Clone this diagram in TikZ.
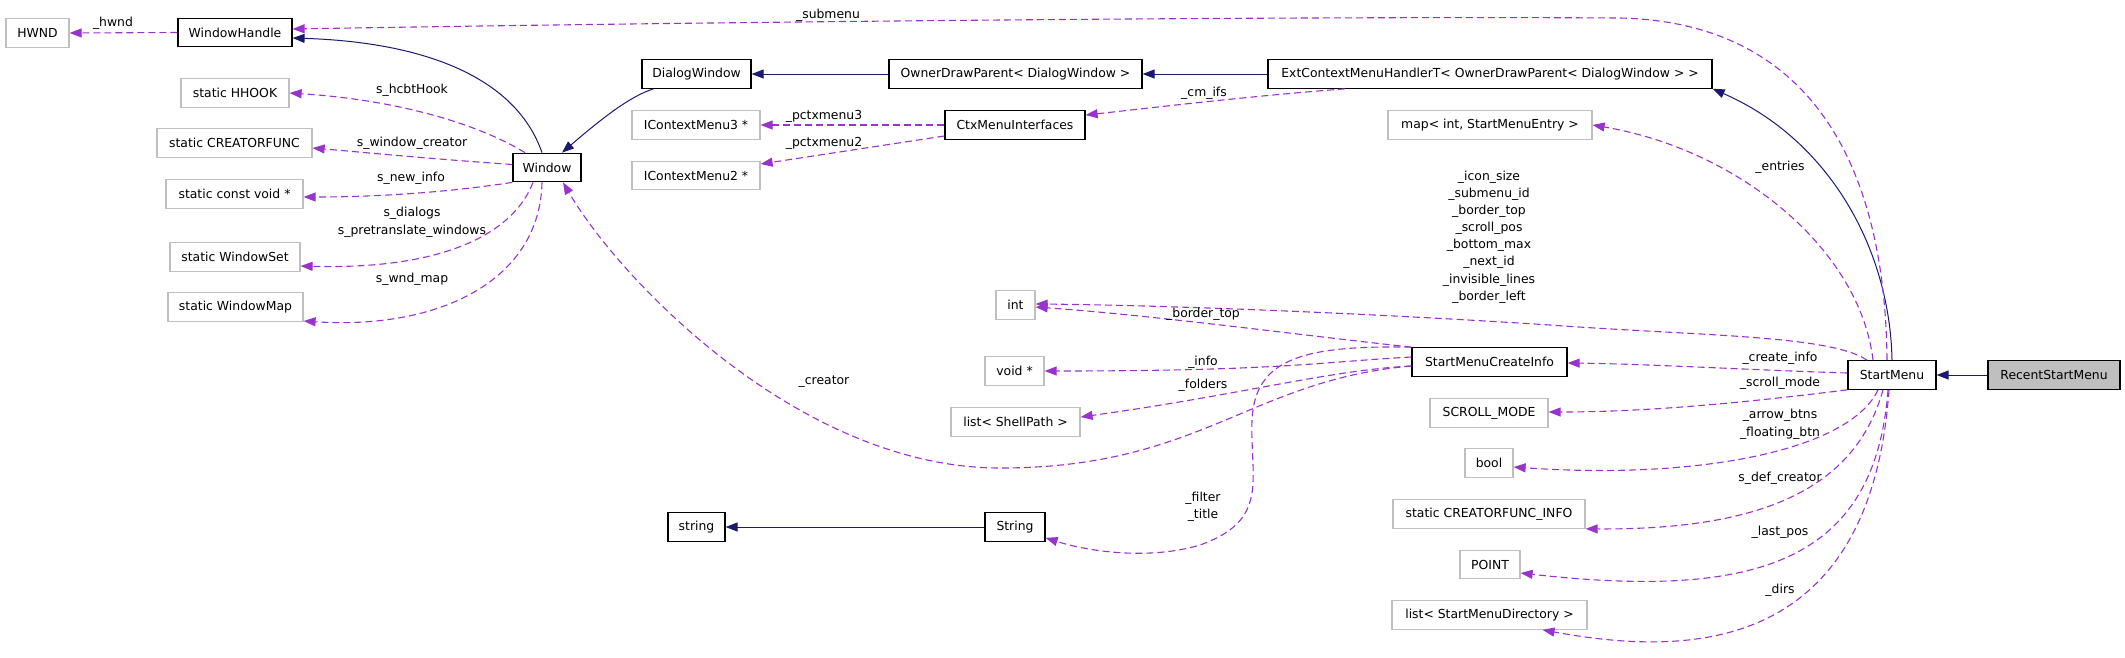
\documentclass[tikz,border=0pt]{standalone}
\usepackage{fontspec}
\setmainfont{DejaVu Sans}
\usetikzlibrary{arrows.meta}
\definecolor{depc}{HTML}{9A32CD}
\definecolor{inhc}{HTML}{191970}
\definecolor{gbord}{HTML}{BFBFBF}
\begin{document}
\begin{tikzpicture}[x=1pt,y=-1pt,
  every node/.style={font=\fontsize{12.4}{15}\selectfont, inner sep=0pt},
  cls/.style={draw=black, line width=1.2pt, minimum height=28.5pt, anchor=center},
  extc/.style={draw=gbord, line width=1.2pt, minimum height=28.5pt, anchor=center},
  lbl/.style={align=center, font=\fontsize{12.4}{17.5}\selectfont},
  inhe/.style={draw=inhc, line width=1pt, -{Triangle[length=12pt,width=9pt]}},
  depe/.style={draw=depc, line width=1.1pt, dash pattern=on 7pt off 4pt, -{Triangle[length=12pt,width=9pt]}}
]
\useasboundingbox (0,0) rectangle (2125,657);

% nodes
\node[extc, minimum width=63] (hwnd) at (37.5,33) {HWND};
\node[cls, minimum width=114] (wh) at (235,32.5) {WindowHandle};
\node[extc, minimum width=108] (hhook) at (235,93) {static HHOOK};
\node[extc, minimum width=155] (cfunc) at (234.5,143) {static CREATORFUNC};
\node[extc, minimum width=137] (cvoid) at (234.5,194) {static const void *};
\node[extc, minimum width=130] (wset) at (235,257) {static WindowSet};
\node[extc, minimum width=135] (wmap) at (235.5,307) {static WindowMap};
\node[cls, minimum width=68] (win) at (547,167.5) {Window};
\node[cls, minimum width=109] (dlg) at (696.5,74) {DialogWindow};
\node[extc, minimum width=128] (icm3) at (696,125) {IContextMenu3 *};
\node[extc, minimum width=128] (icm2) at (696,175.5) {IContextMenu2 *};
\node[cls, minimum width=57] (stdstr) at (696.5,527) {string};
\node[cls, minimum width=253] (odp) at (1015.5,74) {OwnerDrawParent< DialogWindow >};
\node[cls, minimum width=140] (ctx) at (1015,125) {CtxMenuInterfaces};
\node[extc, minimum width=39] (int) at (1015.5,305) {int};
\node[extc, minimum width=59] (voidp) at (1014.5,371) {void *};
\node[extc, minimum width=129] (lsp) at (1015.5,422) {list< ShellPath >};
\node[cls, minimum width=60] (Str) at (1015,527) {String};
\node[cls, minimum width=444] (ecm) at (1490,74) {ExtContextMenuHandlerT< OwnerDrawParent< DialogWindow > >};
\node[extc, minimum width=204] (map) at (1490,125) {map< int, StartMenuEntry >};
\node[cls, minimum width=155] (smci) at (1489.5,362) {StartMenuCreateInfo};
\node[extc, minimum width=118] (scroll) at (1489,413) {SCROLL\_MODE};
\node[extc, minimum width=48] (bool) at (1489,463) {bool};
\node[extc, minimum width=192] (cfinfo) at (1489,514) {static CREATORFUNC\_INFO};
\node[extc, minimum width=60] (point) at (1490,564.5) {POINT};
\node[extc, minimum width=195] (lsmd) at (1489.5,615) {list< StartMenuDirectory >};
\node[cls, minimum width=88] (sm) at (1892,375) {StartMenu};
\node[cls, minimum width=132, fill=gbord] (rsm) at (2054,375) {RecentStartMenu};

% inheritance
\draw[inhe] (rsm.west) -- (sm.east);
\draw[inhe] (sm.north) .. controls (1890,250) and (1830,140) .. (ecm.south east);
\draw[inhe] (ecm.west) -- (odp.east);
\draw[inhe] (odp.west) -- (dlg.east);
\draw[inhe] ([xshift=-43]dlg.south) .. controls (630,96) and (600,120) .. ([xshift=15]win.north);
\draw[inhe] ([xshift=-5]win.north) .. controls (515,75) and (420,42) .. ([yshift=-5.5]wh.east);
\draw[inhe] (Str.west) -- (stdstr.east);

% dependencies
\draw[depe] (wh.west) -- (hwnd.east);
\draw[depe] ([xshift=-5]sm.north) .. controls (1885,150) and (1800,22) .. (1620,18) .. controls (1300,16) and (700,22) .. ([yshift=3.5]wh.east);
\draw[depe] ([xshift=-19]sm.north) .. controls (1860,250) and (1740,150) .. (map.east);
\draw[depe] ([xshift=-25]sm.north) .. controls (1830,335) and (1700,336) .. (1550,325) .. controls (1350,312) and (1150,305) .. ([yshift=1]int.east);
\draw[depe] (smci.north west) .. controls (1300,335) and (1150,315) .. ([yshift=-2]int.east);
\draw[depe] ([yshift=5]smci.west) .. controls (1320,362) and (1280,371) .. (voidp.east);
\draw[depe] ([yshift=-4]smci.west) .. controls (1330,370) and (1240,395) .. ([yshift=5]lsp.east);
\draw[depe] ([yshift=-4]smci.west) .. controls (1250,380) and (1200,468) .. (1000,468) .. controls (800,468) and (620,280) .. ([xshift=16]win.south);
\draw[depe] (smci.north west) .. controls (1300,345) and (1255,360) .. (1252,420) .. controls (1250,480) and (1270,520) .. (1200,545) .. controls (1150,560) and (1090,552) .. ([yshift=4]Str.south east);
\draw[depe] ([yshift=2]sm.west) .. controls (1750,370) and (1650,364) .. ([yshift=-1]smci.east);
\draw[depe] (sm.south west) .. controls (1750,402) and (1650,412) .. ([yshift=1]scroll.east);
\draw[depe] ([xshift=-14]sm.south) .. controls (1850,450) and (1700,480) .. ([yshift=-4]bool.east);
\draw[depe] ([xshift=-9]sm.south) .. controls (1855,490) and (1760,530) .. (cfinfo.south east);
\draw[depe] ([xshift=-4]sm.south) .. controls (1875,560) and (1760,600) .. ([yshift=-8.5]point.east);
\draw[depe] ([xshift=-3]sm.south) .. controls (1870,660) and (1680,655) .. ([xshift=53]lsmd.south);
\draw[depe] ([xshift=-145]ecm.south) .. controls (1250,96) and (1150,108) .. ([yshift=10]ctx.east);
\draw[depe] (ctx.west) -- (icm3.east);
\draw[depe] ([yshift=-11]ctx.west) -- ([yshift=11.5]icm2.east);
\draw[depe] ([xshift=-22]win.north) .. controls (480,125) and (400,100) .. (hhook.east);
\draw[depe] ([yshift=3]win.west) .. controls (420,158) and (360,152) .. ([yshift=-5]cfunc.east);
\draw[depe] (win.south west) .. controls (450,192) and (380,197) .. ([yshift=-3]cvoid.east);
\draw[depe] ([xshift=-14]win.south) .. controls (515,230) and (450,270) .. ([yshift=-9]wset.east);
\draw[depe] ([xshift=-5]win.south) .. controls (540,280) and (440,330) .. ([yshift=-14]wmap.east);

% labels
\node[lbl] (lhwnd) at (113,23) {\_hwnd};
\node[lbl] (lsubmenu) at (828,15) {\_submenu};
\node[lbl] (lhcbt) at (412,90) {s\_hcbtHook};
\node[lbl] (lwcr) at (412,143) {s\_window\_creator};
\node[lbl] (lnewinfo) at (411,178) {s\_new\_info};
\node[lbl, font=\fontsize{12.4}{18}\selectfont] (ldlg) at (412,222) {s\_dialogs\\s\_pretranslate\_windows};
\node[lbl] (lwnd) at (412,279) {s\_wnd\_map};
\node[lbl] (lp3) at (824,116) {\_pctxmenu3};
\node[lbl] (lp2) at (824,143) {\_pctxmenu2};
\node[lbl] (lcm) at (1204,93) {\_cm\_ifs};
\node[lbl] (lcreator) at (824,382) {\_creator};
\node[lbl] (lbt) at (1203,314) {\_border\_top};
\node[lbl] (linfo) at (1203,362) {\_info};
\node[lbl] (lfolders) at (1203,385) {\_folders};
\node[lbl, font=\fontsize{12.4}{17}\selectfont] (lft) at (1203,507) {\_filter\\\_title};
\node[lbl] (lentries) at (1780,167) {\_entries};
\node[lbl, font=\fontsize{12.4}{17.14}\selectfont] (lmany) at (1489,237) {\_icon\_size\\\_submenu\_id\\\_border\_top\\\_scroll\_pos\\\_bottom\_max\\\_next\_id\\\_invisible\_lines\\\_border\_left};
\node[lbl] (lci) at (1780,358) {\_create\_info};
\node[lbl] (lsmode) at (1780,383) {\_scroll\_mode};
\node[lbl, font=\fontsize{12.4}{18}\selectfont] (lab) at (1780,424) {\_arrow\_btns\\\_floating\_btn};
\node[lbl] (lsdc) at (1780,478) {s\_def\_creator};
\node[lbl] (llp) at (1780,532) {\_last\_pos};
\node[lbl] (ldirs) at (1780,590) {\_dirs};
\end{tikzpicture}
\end{document}
